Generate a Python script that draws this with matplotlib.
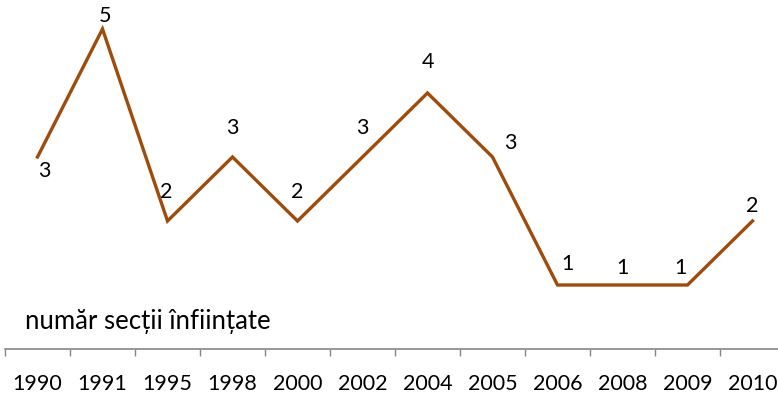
import matplotlib
matplotlib.use('Agg')
import matplotlib.pyplot as plt
import numpy as np

plt.rcParams['font.family'] = ['Lato', 'DejaVu Sans']

# date
ani = ['1990', '1991', '1995', '1998', '2000', '2002', '2004', '2005', '2006', '2008', '2009', '2010']
sectii = [3, 5, 2, 3, 2, 3, 4, 3, 1, 1, 1, 2]
# pozitia etichetelor (puncte)
offsets = [(5, -10), (2, 9), (-1, 21), (0, 21), (0, 21), (0, 21), (0, 22), (13, 10), (7, 15), (0, 12), (-5, 12), (0, 11)]

fig = plt.figure(figsize=(7.78, 4.01), dpi=100)
ax = fig.add_axes([5 / 778, 52 / 401, 1 - 5 / 778, 1 - 52 / 401])

x = np.arange(len(ani))
ax.plot(x, sectii, color='#9E4B0C', lw=2.4, solid_joinstyle='miter')

for xi, v, off in zip(x, sectii, offsets):
    ax.annotate(str(v), (xi, v), xytext=off, textcoords='offset points',
                ha='center', va='center', fontsize=15.5, color='black')

ax.set_xlim(-0.5, (778 - 5) / 65 - 0.5)
ax.set_ylim(0, 349 / 64)

ax.set_xticks(x)
ax.set_xticklabels(ani, fontsize=15.5)
ax.set_xticks(x - 0.5, minor=True)
ax.tick_params(axis='x', which='major', length=0, pad=18)
ax.tick_params(axis='x', which='minor', length=5, width=1, color='#868686', direction='out')
ax.set_yticks([])

for s in ['top', 'right', 'left']:
    ax.spines[s].set_visible(False)
ax.spines['bottom'].set_color('#868686')
ax.spines['bottom'].set_linewidth(1.2)

fig.text(25 / 778, 1 - 322 / 401, 'număr secții înființate', fontsize=18.5, va='center', ha='left')

fig.savefig('out.png', dpi=100)
